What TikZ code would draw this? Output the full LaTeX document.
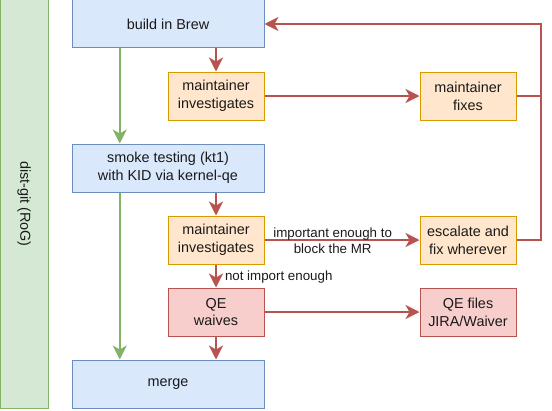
\documentclass[tikz,border=0pt]{standalone}
\usepackage{fontspec}
\setmainfont{Liberation Sans}
\usetikzlibrary{arrows.meta,calc}
\definecolor{bluefill}{HTML}{DAE8FC}
\definecolor{blueline}{HTML}{6C8EBF}
\definecolor{orfill}{HTML}{FFE6CC}
\definecolor{orline}{HTML}{D79B00}
\definecolor{redfill}{HTML}{F8CECC}
\definecolor{redline}{HTML}{B85450}
\definecolor{grfill}{HTML}{D5E8D4}
\definecolor{grline}{HTML}{82B366}
\definecolor{txt}{HTML}{1A1A1A}
\tikzset{
  box/.style={draw, line width=0.75pt, align=center, text=txt, inner sep=0pt,
    font=\fontsize{10.8}{13.3}\selectfont},
  wide/.style={box, minimum width=144pt, minimum height=36pt},
  small/.style={box, minimum width=72pt, minimum height=36pt},
  bluebox/.style={fill=bluefill, draw=blueline},
  orbox/.style={fill=orfill, draw=orline},
  redbox/.style={fill=redfill, draw=redline},
  redline/.style={draw=redline, line width=1.5pt},
  redarrowx/.style={draw=redline, line width=1.5pt, -{Stealth[length=10.5pt,width=10.5pt,inset=3pt]}},
  greenarrow/.style={draw=grline, line width=1.5pt, -{Stealth[length=10.5pt,width=10.5pt,inset=3pt]}},
  elabel/.style={text=txt, font=\fontsize{10}{12}\selectfont, align=center, inner sep=0pt}
}
\begin{document}
\begin{tikzpicture}[x=0.75pt,y=-0.75pt]
\useasboundingbox (0,0) rectangle (552,410);
\node[box, fill=grfill, draw=grline, minimum width=36pt, minimum height=306pt] (dist) at (24,204) {};
\node[text=txt, rotate=-90, font=\fontsize{10.8}{13.3}\selectfont] (distlabel) at (24,204) {dist-git (RoG)};
\node[wide, bluebox] (brew) at (168,24) {build in Brew};
\node[small, orbox] (mi1) at (216,96) {maintainer\\investigates};
\node[small, orbox] (mf) at (468,96) {maintainer\\fixes};
\node[wide, bluebox] (smoke) at (168,168) {smoke testing (kt1)\\with KID via kernel-qe};
\node[small, orbox] (mi2) at (216,240) {maintainer\\investigates};
\node[small, orbox] (esc) at (468,240) {escalate and\\fix wherever};
\node[small, redbox] (qew) at (216,312) {QE\\waives};
\node[small, redbox] (qef) at (468,312) {QE files\\JIRA/Waiver};
\node[wide, bluebox] (merge) at (168,384) {merge};

% green path
\draw[greenarrow] ($(brew.south west)!0.25!(brew.south east)$) -- ($(smoke.north west)!0.25!(smoke.north east)$);
\draw[greenarrow] ($(smoke.south west)!0.25!(smoke.south east)$) -- ($(merge.north west)!0.25!(merge.north east)$);

% red path
\draw[redarrowx] (mi1.north |- brew.south) -- (mi1.north);
\draw[redarrowx] (mi1.east) -- (mf.west);
\draw[redline] (mf.east) -- ++(24,0);
\draw[redarrowx] (esc.east) -- ++(24,0) |- (brew.east);
\draw[redarrowx] (mi2.north |- smoke.south) -- (mi2.north);
\draw[redarrowx] (mi2.east) -- node[elabel, pos=0.44, yshift=-0.5pt] (lab1) {important enough to\\block the MR} (esc.west);
\draw[redarrowx] (mi2.south) -- node[elabel, anchor=west, xshift=6pt, pos=0.55] (lab2) {not import enough} (qew.north);
\draw[redarrowx] (qew.east) -- (qef.west);
\draw[redarrowx] (qew.south) -- (qew.south |- merge.north);
\end{tikzpicture}
\end{document}
